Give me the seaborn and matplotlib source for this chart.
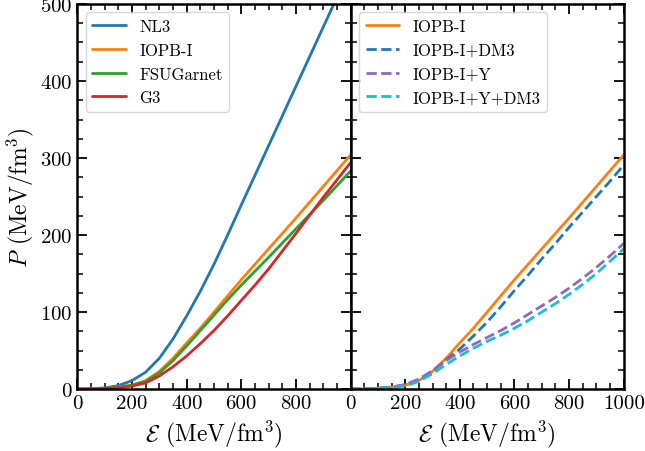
import numpy as np
import pandas as pd
import matplotlib
matplotlib.use("Agg")
import matplotlib.pyplot as plt
import seaborn as sns
from matplotlib.ticker import MultipleLocator

# ---------------- data ----------------
E_grid = [0, 50, 100, 150, 200, 250, 300, 350, 400, 450, 500, 550, 600, 650, 700, 800, 900, 1000]

E_nl3 = [0, 50, 100, 150, 200, 250, 300, 350, 400, 450, 500, 550, 600, 700, 800, 900, 1000]
P_nl3 = [0, 0.3, 1.5, 4.5, 11, 22, 40, 65, 95, 127, 162, 200, 239, 316, 393, 470, 547]

P_iopb = [0, 0.2, 1, 2.5, 5, 11, 23, 40, 60, 79, 100, 121, 142, 162, 182, 222, 263, 304]
P_fsu = [0, 0.2, 1, 2.5, 5, 10, 21, 37, 56, 76, 96, 116, 135, 153, 171, 208, 245, 283]
P_g3 = [0, 0.1, 0.6, 1.8, 4, 8, 17, 29, 43, 59, 76, 95, 115, 135, 156, 202, 249, 294]

E_right = [0, 50, 100, 150, 200, 250, 300, 350, 400, 450, 500, 550, 600, 650, 700, 750, 800, 850, 900, 950, 1000]
P_dm3 = [0, 0.2, 1, 2.5, 5, 11, 23, 38, 52, 69, 87, 107, 128, 148, 169, 189, 210, 230, 250, 270, 291]
P_y = [0, 0.2, 1, 2.5, 6, 13, 24, 37, 48, 58, 67, 76, 86, 97, 108, 119, 131, 144, 158, 173, 189]
P_ydm3 = [0, 0.2, 1, 2.3, 4, 10, 20, 32, 43, 53, 62, 70, 79, 89, 100, 111, 123, 136, 150, 166, 182]

left_series = [
    ("NL3", E_nl3, P_nl3, "tab:blue", "-"),
    ("IOPB-I", E_grid, P_iopb, "tab:orange", "-"),
    ("FSUGarnet", E_grid, P_fsu, "tab:green", "-"),
    ("G3", E_grid, P_g3, "tab:red", "-"),
]
right_series = [
    ("IOPB-I", E_grid, P_iopb, "tab:orange", "-"),
    ("IOPB-I+DM3", E_right, P_dm3, "tab:blue", "--"),
    ("IOPB-I+Y", E_right, P_y, "tab:purple", "--"),
    ("IOPB-I+Y+DM3", E_right, P_ydm3, "tab:cyan", "--"),
]

# ---------------- style ----------------
sns.set_style("ticks")
plt.rcParams["font.family"] = ["cmr10", "DejaVu Serif"]
plt.rcParams["mathtext.fontset"] = "cm"
plt.rcParams["axes.formatter.use_mathtext"] = True
plt.rcParams["axes.unicode_minus"] = False
for k in ["axes.edgecolor", "xtick.color", "ytick.color", "text.color", "axes.labelcolor"]:
    plt.rcParams[k] = "black"

fig, axes = plt.subplots(1, 2, figsize=(6.45, 4.52), dpi=100, sharey=True)
fig.subplots_adjust(left=0.12, right=0.967, top=0.989, bottom=0.137, wspace=0)

for ax, series in zip(axes, [left_series, right_series]):
    for name, E, P, col, ls in series:
        df = pd.DataFrame({"E": E, "P": P})
        sns.lineplot(data=df, x="E", y="P", ax=ax, color=col, linestyle=ls,
                     lw=2, label=name, estimator=None, sort=False)
    ax.set_xlim(0, 1000)
    ax.set_ylim(0, 500)
    ax.xaxis.set_minor_locator(MultipleLocator(50))
    ax.yaxis.set_minor_locator(MultipleLocator(25))
    ax.yaxis.set_major_locator(MultipleLocator(100))
    ax.tick_params(which="both", direction="in", top=True, right=True, labelsize=15)
    ax.tick_params(which="major", length=7, width=1.3)
    ax.tick_params(which="minor", length=4, width=1.1)
    for sp in ax.spines.values():
        sp.set_linewidth(1.8)
    ax.set_xlabel(r"$\mathcal{E}$ (MeV/fm$^3$)", fontsize=17, labelpad=4)
    ax.legend(loc="upper left", fontsize=12, frameon=True)

axes[0].set_xticks([0, 200, 400, 600, 800, 1000], labels=["0", "200", "400", "600", "800", ""])
axes[1].set_xticks([0, 200, 400, 600, 800, 1000], labels=["0", "200", "400", "600", "800", "1000"])
axes[0].set_ylabel(r"$P$ (MeV/fm$^3$)", fontsize=17, labelpad=3)
axes[1].set_ylabel("")
axes[1].tick_params(labelleft=False)

fig.savefig("out.png", dpi=100)
